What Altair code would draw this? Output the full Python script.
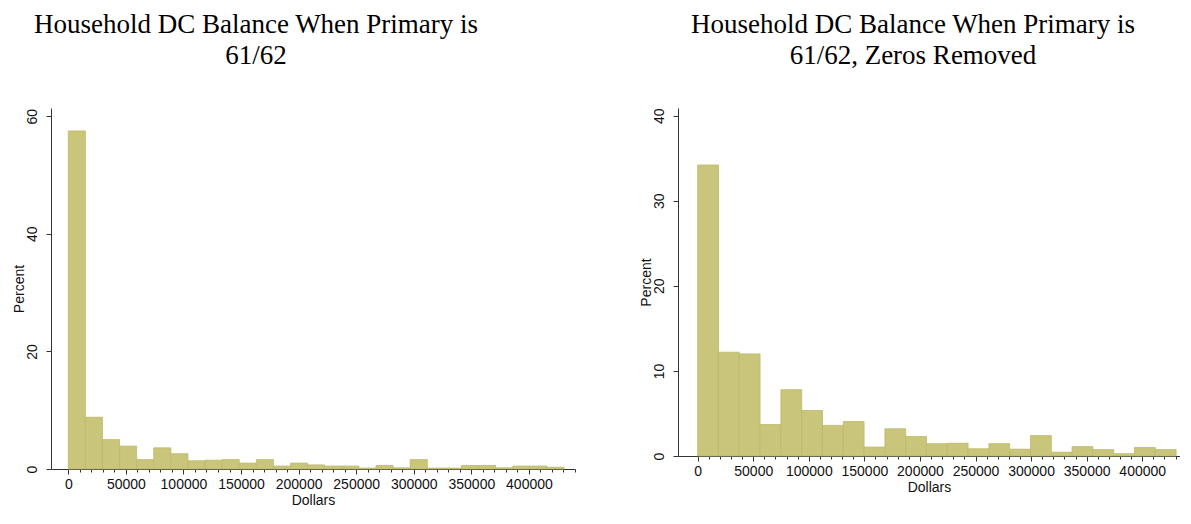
import altair as alt
import pandas as pd

# ---- data (percent of households per histogram bin) ----
left_percent = [57.5, 8.8, 5.0, 3.9, 1.6, 3.6, 2.6, 1.4, 1.5, 1.6, 1.0, 1.6, 0.5, 1.0,
                0.7, 0.5, 0.5, 0.15, 0.6, 0.2, 1.6, 0.15, 0.15, 0.6, 0.6, 0.2, 0.5,
                0.5, 0.3]
right_percent = [34.2, 12.2, 12.0, 3.7, 7.8, 5.35, 3.6, 4.05, 1.05, 3.2, 2.3, 1.45,
                 1.5, 0.85, 1.45, 0.8, 2.4, 0.45, 1.1, 0.75, 0.27, 1.0, 0.75]
balance_min = 0
balance_max = 430500

left_title = ["Household DC Balance When Primary is", "61/62"]
right_title = ["Household DC Balance When Primary is", "61/62, Zeros Removed"]
x_title = "Dollars"
y_title = "Percent"
left_y_ticks = [0, 20, 40, 60]
right_y_ticks = [0, 10, 20, 30, 40]


def hist_frame(values):
    n = len(values)
    w = (balance_max - balance_min) / n
    return pd.DataFrame({
        "start": [balance_min + i * w for i in range(n)],
        "end": [balance_min + (i + 1) * w for i in range(n)],
        "pct": values,
    })


BAR_FILL = "#c9c67b"
BAR_STROKE = "#bcb96a"
AXIS_COLOR = "#333333"
SANS = "Liberation Sans"


def panel(values, title, title_dx, xdom, ydom, yticks, width, height, xmax_tick):
    df = hist_frame(values)
    xticks = list(range(0, xmax_tick + 1, 10000))
    x_axis = alt.Axis(
        values=xticks,
        format="d",
        labelExpr="datum.value % 50000 === 0 ? datum.label : ''",
        tickSize={"condition": {"test": "datum.value % 50000 === 0", "value": 5}, "value": 3},
        grid=False,
        domainColor=AXIS_COLOR,
        tickColor=AXIS_COLOR,
        labelColor="#111111",
        titleColor="#111111",
        labelFont=SANS,
        titleFont=SANS,
        labelFontSize=14,
        titleFontSize=14,
        titleFontWeight="normal",
        labelPadding=3,
        titlePadding=2,
        labelFlush=False,
        labelOverlap=False,
    )
    y_axis = alt.Axis(
        values=yticks,
        grid=False,
        tickSize=5,
        domainColor=AXIS_COLOR,
        tickColor=AXIS_COLOR,
        labelColor="#111111",
        titleColor="#111111",
        labelFont=SANS,
        titleFont=SANS,
        labelFontSize=14,
        titleFontSize=14,
        titleFontWeight="normal",
        labelAngle=270,
        labelAlign="center",
        labelBaseline="bottom",
        labelPadding=7,
        titlePadding=-1,
    )
    return (
        alt.Chart(df)
        .mark_bar(fill=BAR_FILL, stroke=BAR_STROKE, strokeWidth=0.8)
        .encode(
            x=alt.X("start:Q", title=x_title, scale=alt.Scale(domain=xdom, nice=False, zero=False), axis=x_axis),
            x2="end:Q",
            y=alt.Y("pct:Q", title=y_title, scale=alt.Scale(domain=ydom, nice=False), axis=y_axis),
            y2=alt.datum(0),
        )
        .properties(
            width=width,
            height=height,
            title=alt.TitleParams(
                title,
                font="Liberation Serif",
                fontSize=27,
                fontWeight="normal",
                color="#000000",
                anchor="middle",
                lineHeight=31,
                offset=38,
                dx=title_dx,
            ),
        )
    )


left = panel(left_percent, left_title, -57, [-15000, 440000], [0, 61.4], left_y_ticks, 524, 361, 440000)
right = panel(right_percent, right_title, -16, [-17700, 434000], [0, 40.9], right_y_ticks, 502, 348, 430000)

chart = (
    alt.hconcat(left, right, spacing=63)
    .properties(padding={"left": 3, "top": 2, "right": 0, "bottom": 0}, background="white")
    .configure_view(strokeWidth=0, stroke="transparent")
)

chart.save("out.html", embed_options={"renderer": "svg", "actions": False})
